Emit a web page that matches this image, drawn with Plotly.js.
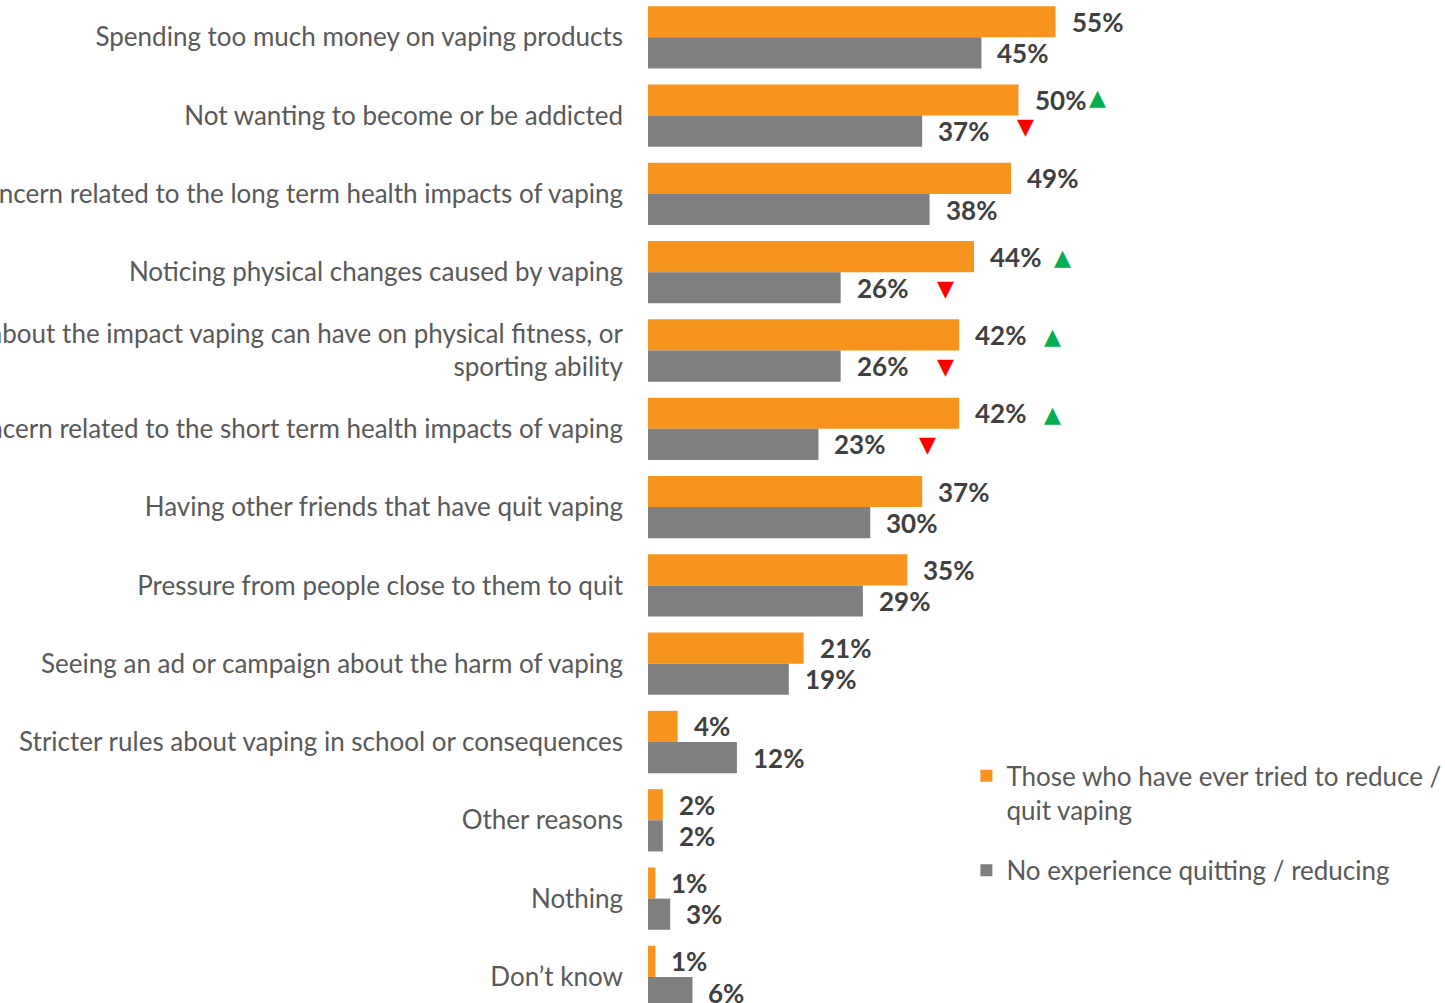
<!DOCTYPE html>
<html>
<head>
<meta charset="utf-8">
<script src="https://cdn.plot.ly/plotly-3.0.1.min.js"></script>
<style>
  html, body { margin: 0; padding: 0; background: #fff; }
  #chart { width: 1445px; height: 1003px; }
</style>
</head>
<body>
<div id="chart"></div>
<script>
// Reasons for wanting to quit vaping, by quitting experience
const categories = [
  "Spending too much money on vaping products",
  "Not wanting to become or be addicted",
  "Concern related to the long term health impacts of vaping",
  "Noticing physical changes caused by vaping",
  "Concern about the impact vaping can have on physical fitness, or<br>sporting ability",
  "Concern related to the short term health impacts of vaping",
  "Having other friends that have quit vaping",
  "Pressure from people close to them to quit",
  "Seeing an ad or campaign about the harm of vaping",
  "Stricter rules about vaping in school or consequences",
  "Other reasons",
  "Nothing",
  "Don\u2019t know"
];
const triedValues = [55, 50, 49, 44, 42, 42, 37, 35, 21, 4, 2, 1, 1];
const noExperienceValues = [45, 37, 38, 26, 26, 23, 30, 29, 19, 12, 2, 3, 6];
// rows with a significant difference between the two groups
const significantRows = [1, 3, 4, 5];

const seriesNames = [
  "Those who have ever tried to reduce /<br>quit vaping",
  "No experience quitting / reducing"
];

const ORANGE = "#F7941E";
const GREY = "#7F7F7F";
const LABEL_FONT = "Lato, 'Open Sans', sans-serif";

// marker placement next to the value labels (pixels from the bar end)
const upMarkerShift = {1: [79, 18], 3: [88, 15], 4: [93, 14], 5: [93, 14]};
const downMarkerShift = {1: [103, -11], 3: [105, -16], 4: [105, -16], 5: [109, -16]};

const traces = [
  {
    type: "bar", orientation: "h", name: seriesNames[0], legendgroup: "tried",
    y: categories, x: triedValues,
    marker: {color: ORANGE}, hoverinfo: "x+y"
  },
  {
    type: "bar", orientation: "h", name: seriesNames[1], legendgroup: "none",
    y: categories, x: noExperienceValues,
    marker: {color: GREY}, hoverinfo: "x+y"
  }
];

const valueFont = {family: LABEL_FONT, size: 26, color: "#404040", weight: "bold"};
const annotations = [];
categories.forEach((cat, i) => {
  annotations.push({
    x: triedValues[i], y: cat, xref: "x", yref: "y",
    text: triedValues[i] + "%", showarrow: false,
    xanchor: "left", yanchor: "middle", xshift: 14, yshift: 15.6,
    font: valueFont
  });
  annotations.push({
    x: noExperienceValues[i], y: cat, xref: "x", yref: "y",
    text: noExperienceValues[i] + "%", showarrow: false,
    xanchor: "left", yanchor: "middle", xshift: 14, yshift: -15.6,
    font: valueFont
  });
});
significantRows.forEach(i => {
  const up = upMarkerShift[i], down = downMarkerShift[i];
  annotations.push({
    x: triedValues[i], y: categories[i], xref: "x", yref: "y",
    text: "\u25B2", showarrow: false, xanchor: "center", yanchor: "middle",
    xshift: up[0], yshift: up[1],
    font: {family: "DejaVu Sans", size: 22, color: "#00B050"}
  });
  annotations.push({
    x: noExperienceValues[i], y: categories[i], xref: "x", yref: "y",
    text: "\u25BC", showarrow: false, xanchor: "center", yanchor: "middle",
    xshift: down[0], yshift: down[1],
    font: {family: "DejaVu Sans", size: 22, color: "#FF0000"}
  });
});

const plotLeft = 648, width = 1445, height = 1003;
const pxPerPercent = 7.41;
const rowPitch = 78.3, firstRowCentre = 37.3;
const yTop = -firstRowCentre / rowPitch;
const yBottom = yTop + height / rowPitch;

const layout = {
  width: width, height: height,
  margin: {l: plotLeft, r: 0, t: 0, b: 0, pad: 0, autoexpand: false},
  paper_bgcolor: "#ffffff", plot_bgcolor: "#ffffff",
  barmode: "group", bargap: 0.204, bargroupgap: 0,
  showlegend: true,
  legend: {
    x: 0.3995, y: 0.25, xanchor: "left", yanchor: "top",
    font: {family: LABEL_FONT, size: 26, color: "#595959"},
    valign: "top", tracegroupgap: 24, itemclick: false,
    bgcolor: "rgba(0,0,0,0)"
  },
  xaxis: {
    range: [0, (width - plotLeft) / pxPerPercent],
    visible: false, fixedrange: true
  },
  yaxis: {
    type: "category", categoryorder: "array", categoryarray: categories,
    range: [yBottom, yTop],
    showgrid: false, zeroline: false, showline: false, ticks: "",
    ticklabelstandoff: 24, automargin: false,
    tickfont: {family: LABEL_FONT, size: 26, color: "#595959"},
    fixedrange: true
  },
  annotations: annotations,
  font: {family: LABEL_FONT}
};

Plotly.newPlot("chart", traces, layout, {displayModeBar: false, staticPlot: true});
</script>
</body>
</html>
